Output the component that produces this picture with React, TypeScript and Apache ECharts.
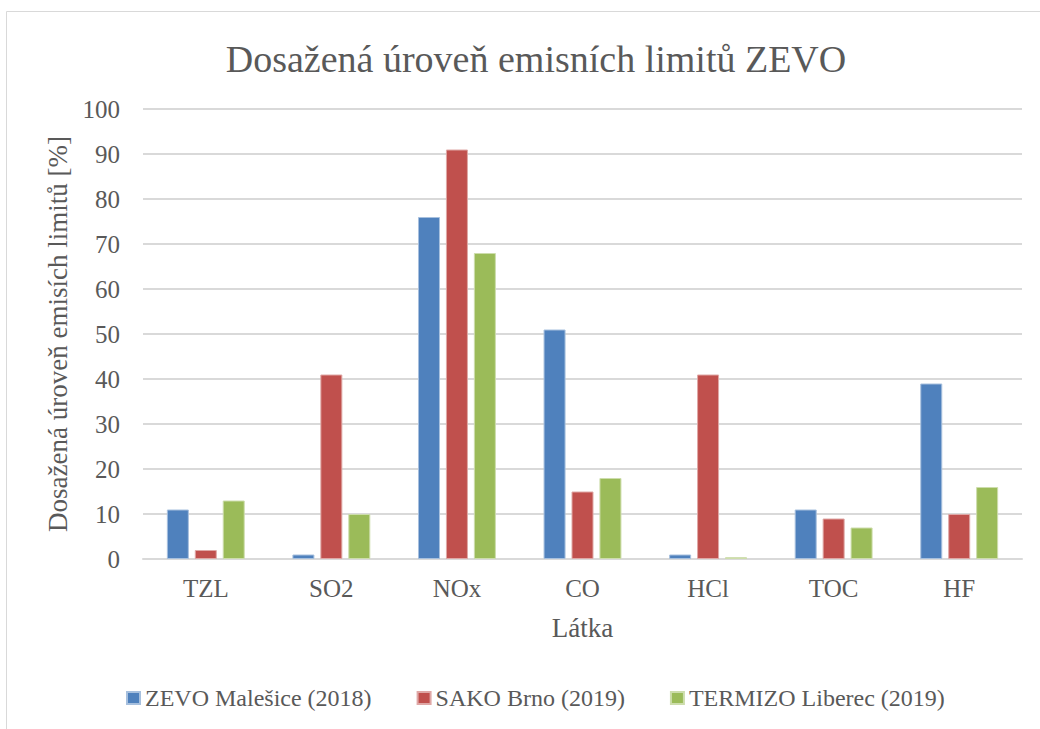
import React, { useEffect, useRef } from "react";
import * as echarts from "echarts";

const categories = ["TZL", "SO2", "NOx", "CO", "HCl", "TOC", "HF"];
const seriesNames = ["ZEVO Malešice (2018)", "SAKO Brno (2019)", "TERMIZO Liberec (2019)"];
const zevoValues = [11, 1, 76, 51, 1, 11, 39];
const sakoValues = [2, 41, 91, 15, 41, 9, 10];
const termizoValues = [13, 10, 68, 18, 0.4, 7, 16];
const colors = ["#4F81BD", "#C0504D", "#9BBB59"];
const borderColors = ["#A7C0DE", "#DFA8A6", "#CDDDAC"];

const FONT = "'Liberation Serif', serif";
const TEXT = "#595959";

export default function App() {
  const ref = useRef<HTMLDivElement>(null);
  useEffect(() => {
    if (!ref.current) return;
    const chart = echarts.init(ref.current, undefined, { renderer: "svg" });
    const values = [zevoValues, sakoValues, termizoValues];
    chart.setOption({
      animation: false,
      backgroundColor: "#FFFFFF",
      textStyle: { fontFamily: FONT, color: TEXT },
      title: {
        text: "Dosažená úroveň emisních limitů ZEVO",
        left: 531,
        textAlign: "center",
        top: 35,
        textStyle: { fontFamily: FONT, fontSize: 38, fontWeight: "normal", color: TEXT },
      },
      graphic: [
        {
          type: "rect",
          shape: { x: 6.5, y: 11.5, width: 1100, height: 1000 },
          style: { fill: "none", stroke: "#D9D9D9", lineWidth: 1 },
          silent: true,
        },
      ],
      legend: {
        left: 126,
        top: 686,
        padding: 0,
        itemWidth: 13,
        itemHeight: 12,
        itemGap: 45,
        icon: "rect",
        textStyle: { fontFamily: FONT, fontSize: 24, color: TEXT },
        data: seriesNames,
      },
      grid: { left: 143, right: 18, top: 109, bottom: 170 },
      xAxis: {
        type: "category",
        data: categories,
        name: "Látka",
        nameLocation: "middle",
        nameGap: 55,
        nameTextStyle: { fontFamily: FONT, fontSize: 27, color: TEXT },
        axisLine: { lineStyle: { color: "#D9D9D9", width: 2 } },
        axisTick: { show: false },
        axisLabel: { fontFamily: FONT, fontSize: 25, color: TEXT, margin: 17 },
      },
      yAxis: {
        type: "value",
        min: 0,
        max: 100,
        interval: 10,
        name: "Dosažená úroveň emisích limitů [%]",
        nameLocation: "middle",
        nameGap: 69,
        nameTextStyle: { fontFamily: FONT, fontSize: 27, color: TEXT },
        axisLine: { show: false },
        axisTick: { show: false },
        axisLabel: { fontFamily: FONT, fontSize: 25, color: TEXT, margin: 23 },
        splitLine: { lineStyle: { color: "#D9D9D9", width: 2 } },
      },
      series: seriesNames.map((name, i) => ({
        name,
        type: "bar",
        data: values[i],
        barWidth: 22,
        barGap: "27%",
        itemStyle: { color: colors[i], borderColor: borderColors[i], borderWidth: 1 },
      })),
    });
    return () => chart.dispose();
  }, []);
  return (
    <div
      ref={ref}
      style={{ position: "absolute", left: 0, top: 0, width: 1040, height: 729 }}
    />
  );
}
